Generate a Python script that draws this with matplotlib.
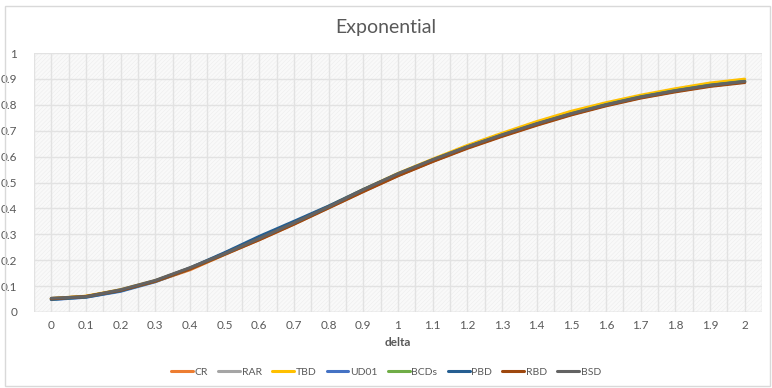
import numpy as np
import matplotlib
matplotlib.use("Agg")
import matplotlib.pyplot as plt
from matplotlib.patches import Rectangle

# delta values on the category axis
delta = ["0", "0.1", "0.2", "0.3", "0.4", "0.5", "0.6", "0.7", "0.8", "0.9", "1",
         "1.1", "1.2", "1.3", "1.4", "1.5", "1.6", "1.7", "1.8", "1.9", "2"]

cr   = [0.052, 0.060, 0.083, 0.118, 0.163, 0.222, 0.280, 0.340, 0.403, 0.466, 0.527, 0.582, 0.634, 0.680, 0.723, 0.763, 0.798, 0.828, 0.852, 0.873, 0.888]
rar  = [0.052, 0.060, 0.085, 0.120, 0.168, 0.225, 0.283, 0.343, 0.405, 0.470, 0.530, 0.585, 0.637, 0.683, 0.727, 0.767, 0.802, 0.832, 0.857, 0.878, 0.893]
tbd  = [0.052, 0.061, 0.086, 0.121, 0.169, 0.226, 0.285, 0.345, 0.408, 0.473, 0.535, 0.590, 0.643, 0.690, 0.735, 0.775, 0.808, 0.837, 0.862, 0.884, 0.899]
ud01 = [0.048, 0.057, 0.080, 0.117, 0.167, 0.227, 0.288, 0.347, 0.406, 0.468, 0.528, 0.583, 0.635, 0.681, 0.725, 0.764, 0.799, 0.829, 0.854, 0.875, 0.890]
bcds = [0.050, 0.059, 0.083, 0.119, 0.167, 0.224, 0.284, 0.344, 0.405, 0.470, 0.531, 0.586, 0.637, 0.683, 0.726, 0.766, 0.801, 0.831, 0.855, 0.876, 0.891]
pbd  = [0.049, 0.058, 0.082, 0.120, 0.170, 0.229, 0.292, 0.350, 0.409, 0.473, 0.533, 0.587, 0.637, 0.682, 0.725, 0.764, 0.799, 0.829, 0.853, 0.874, 0.889]
rbd  = [0.051, 0.060, 0.084, 0.119, 0.166, 0.223, 0.279, 0.339, 0.402, 0.465, 0.526, 0.581, 0.632, 0.678, 0.721, 0.761, 0.796, 0.826, 0.850, 0.871, 0.886]
bsd  = [0.053, 0.059, 0.086, 0.122, 0.171, 0.225, 0.284, 0.344, 0.406, 0.472, 0.534, 0.588, 0.638, 0.684, 0.727, 0.766, 0.800, 0.830, 0.854, 0.875, 0.890]

series = [
    ("CR", cr, "#ED7D31"),
    ("RAR", rar, "#A5A5A5"),
    ("TBD", tbd, "#FFC000"),
    ("UD01", ud01, "#4472C4"),
    ("BCDs", bcds, "#70AD47"),
    ("PBD", pbd, "#255E91"),
    ("RBD", rbd, "#9E480E"),
    ("BSD", bsd, "#636363"),
]

txt = "#595959"
plt.rcParams["font.family"] = ["Lato", "DejaVu Sans"]
plt.rcParams["hatch.linewidth"] = 0.4
fig = plt.figure(figsize=(7.72, 3.88), dpi=100)
fig.patch.set_facecolor("white")

# chart frame
fig.add_artist(Rectangle((5 / 772, 2 / 388), 765 / 772, 380 / 388, transform=fig.transFigure,
                         fill=False, edgecolor="#d9d9d9", linewidth=1))

ax = fig.add_axes([34 / 772, 76 / 388, 728 / 772, 259 / 388])
ax.set_facecolor("#f9f9f9")
ax.add_patch(Rectangle((0, 0), 1, 1, transform=ax.transAxes, facecolor="none",
                       edgecolor="#ededed", hatch="////////", linewidth=0, zorder=0))

x = np.arange(len(delta))
for name, vals, col in series:
    ax.plot(x, vals, color=col, linewidth=2.2, label=name, solid_capstyle="round", zorder=3)

ax.set_xlim(-0.5, len(delta) - 0.5)
ax.set_ylim(0, 1)
ax.set_yticks(np.arange(0, 1.01, 0.1))
ax.set_yticklabels(["0", "0.1", "0.2", "0.3", "0.4", "0.5", "0.6", "0.7", "0.8", "0.9", "1"])
ax.set_xticks(x)
ax.set_xticklabels(delta)
ax.set_xticks(np.arange(-0.5, len(delta), 1), minor=True)
ax.grid(axis="y", which="major", color="#e2e2e2", linewidth=1, zorder=1)
ax.grid(axis="x", which="both", color="#e2e2e2", linewidth=1, zorder=1)
ax.set_axisbelow(True)
ax.tick_params(axis="both", which="both", length=0, colors=txt, labelsize=8.5)
ax.tick_params(axis="x", pad=6)
ax.tick_params(axis="y", pad=12)
for s in ax.spines.values():
    s.set_visible(False)
ax.axhline(0, color="#d9d9d9", linewidth=1, zorder=2)

ax.set_xlabel("delta", fontsize=8.5, fontweight="bold", color=txt, labelpad=4)
fig.text(0.5, 1 - 28 / 388, "Exponential", ha="center", va="center", fontsize=14, color=txt)

fig.legend(loc="center", bbox_to_anchor=(0.5, 1 - 372 / 388), ncol=8, frameon=False,
           fontsize=7.5, labelcolor=txt, handlelength=2.1, handletextpad=0.15, columnspacing=1.0)

fig.savefig("out.png", dpi=100)
